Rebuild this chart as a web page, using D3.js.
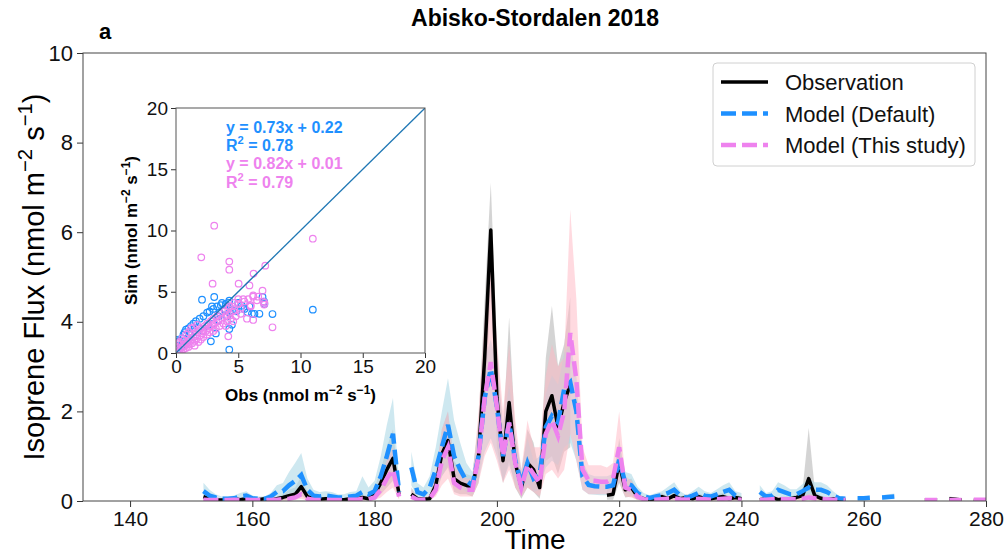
<!DOCTYPE html>
<html>
<head>
<meta charset="utf-8">
<script src="https://cdn.jsdelivr.net/npm/d3@7"></script>
<style>
  body { margin: 0; background: #fff; }
  svg { font-family: "Liberation Sans", Arial, Helvetica, sans-serif; }
</style>
</head>
<body>
<svg id="chart" width="1004" height="556"></svg>
<script>
// day of year, one value per day from 152 to 280
var firstDay = 152
var days = d3.range(firstDay, 281)

var xTicks = [140, 160, 180, 200, 220, 240, 260, 280]
var yTicks = [0, 2, 4, 6, 8, 10]
var insetTicks = [0, 5, 10, 15, 20]

// Observation (mean, upper and lower bound of the spread)
var obsMean = [
  0.10,0.05,0.02,0.02,0.03,0.05,0.03,0.05,0.02,0.03,
  0.05,0.02,0.05,0.08,0.12,0.15,0.32,0.10,0.05,0.04,
  0.05,0.05,0.03,0.03,0.05,0.04,0.08,0.05,0.15,0.40,
  0.70,0.95,0.15,null,0.15,0.05,0.04,0.05,0.35,1.05,
  1.35,0.50,0.40,0.35,0.30,1.00,3.20,6.05,2.30,0.90,
  2.20,0.85,0.30,0.85,0.70,0.30,2.00,2.35,1.65,2.20,
  2.60,null,null,null,null,null,0.13,0.15,0.85,0.25,
  0.30,0.10,0.05,0.03,0.05,0.10,0.05,0.12,0.05,0.08,
  0.05,0.10,0.05,0.05,0.08,0.10,0.05,0.08,0.05,null,
  null,0.03,0.05,0.08,0.03,0.05,0.05,0.08,0.12,0.50,
  0.12,0.06,0.03,0.05,0.03,0.02,null,null,null,null,
  null,null,null,null,null,null,null,null,0.03,0.03,
  0.02,null,0.05,0.04,0.02,null,0.02,0.01,0.01]
var obsHi = [
  0.20,0.10,0.05,0.05,0.06,0.10,0.06,0.10,0.05,0.06,
  0.10,0.05,0.10,0.15,0.25,0.30,0.55,0.20,0.10,0.08,
  0.10,0.10,0.06,0.06,0.10,0.08,0.15,0.10,0.30,0.70,
  1.20,1.60,0.30,null,0.30,0.10,0.08,0.10,0.60,1.60,
  2.00,0.90,0.70,0.60,0.55,1.80,4.50,7.10,3.50,1.50,
  4.10,1.50,0.60,1.60,1.30,0.60,3.20,4.35,3.00,3.50,
  4.55,null,null,null,null,null,0.25,0.30,1.40,0.45,
  0.50,0.20,0.10,0.06,0.10,0.18,0.10,0.22,0.10,0.15,
  0.10,0.18,0.10,0.10,0.15,0.18,0.10,0.15,0.10,null,
  null,0.06,0.10,0.15,0.06,0.10,0.10,0.15,0.25,1.63,
  0.25,0.12,0.06,0.10,0.06,0.04,null,null,null,null,
  null,null,null,null,null,null,null,null,0.06,0.06,
  0.04,null,0.10,0.08,0.04,null,0.04,0.02,0.02]
var obsLo = [
  0.02,0.01,0.00,0.00,0.00,0.01,0.00,0.01,0.00,0.00,
  0.01,0.00,0.01,0.02,0.03,0.04,0.12,0.03,0.01,0.01,
  0.01,0.01,0.00,0.00,0.01,0.00,0.02,0.01,0.04,0.15,
  0.30,0.45,0.05,null,0.05,0.01,0.01,0.01,0.15,0.55,
  0.75,0.20,0.15,0.15,0.10,0.40,1.80,4.80,1.20,0.40,
  0.90,0.30,0.05,0.30,0.20,0.05,0.90,1.00,0.60,1.10,
  1.20,null,null,null,null,null,0.03,0.03,0.40,0.08,
  0.10,0.02,0.01,0.00,0.01,0.02,0.01,0.03,0.01,0.02,
  0.01,0.02,0.01,0.01,0.02,0.02,0.01,0.02,0.01,null,
  null,0.00,0.01,0.02,0.00,0.01,0.01,0.02,0.03,0.10,
  0.03,0.01,0.00,0.01,0.00,0.00,null,null,null,null,
  null,null,null,null,null,null,null,null,0.00,0.00,
  0.00,null,0.01,0.01,0.00,null,0.00,0.00,0.00]

// Model (Default)
var defMean = [
  0.22,0.12,0.08,0.05,0.05,0.06,0.10,0.12,0.06,0.05,
  0.05,0.10,0.20,0.22,0.35,0.45,0.58,0.25,0.12,0.10,
  0.12,0.10,0.08,0.08,0.10,0.12,0.20,0.15,0.22,0.55,
  1.00,1.50,0.20,null,0.75,0.20,0.15,0.30,0.70,1.20,
  1.70,1.00,0.70,0.45,0.35,1.00,2.30,2.95,2.10,1.00,
  1.75,0.90,0.40,0.85,0.50,0.60,1.65,1.90,1.75,2.50,
  2.65,2.00,0.55,0.36,0.33,0.32,0.32,0.35,0.92,0.40,
  0.35,0.18,0.10,0.07,0.10,0.13,0.18,0.25,0.12,0.07,
  0.12,0.18,0.12,0.10,0.15,0.20,0.25,0.12,0.10,null,
  null,0.20,0.10,0.12,0.25,0.20,0.15,0.15,0.22,0.30,
  0.25,0.25,0.20,0.12,0.06,0.05,null,0.06,0.06,0.07,
  null,0.08,0.09,0.10,null,null,null,null,null,null,
  null,null,null,null,null,null,null,null,null]
var defHi = [
  0.41,0.25,0.15,0.10,0.10,0.12,0.18,0.22,0.12,0.10,
  0.10,0.18,0.35,0.40,0.65,0.85,1.07,0.50,0.25,0.20,
  0.22,0.20,0.15,0.15,0.20,0.22,0.55,0.30,0.45,1.00,
  1.70,2.30,0.40,null,1.10,0.40,0.30,0.55,1.20,2.00,
  2.74,1.80,1.30,0.85,0.65,1.70,3.20,3.60,3.00,1.70,
  2.60,1.50,0.70,1.40,0.90,1.00,2.40,2.80,2.60,3.30,
  3.50,2.80,0.90,0.60,0.55,0.55,0.55,0.60,1.30,0.65,
  0.60,0.32,0.18,0.13,0.18,0.22,0.32,0.42,0.22,0.13,
  0.22,0.32,0.22,0.18,0.26,0.35,0.42,0.22,0.18,null,
  null,0.35,0.18,0.22,0.42,0.35,0.26,0.26,0.38,0.50,
  0.42,0.42,0.35,0.22,0.11,0.09,null,0.10,0.10,0.12,
  null,0.13,0.15,0.17,null,null,null,null,null,null,
  null,null,null,null,null,null,null,null,null]
var defLo = [
  0.10,0.05,0.03,0.02,0.02,0.03,0.04,0.05,0.03,0.02,
  0.02,0.04,0.08,0.10,0.15,0.20,0.25,0.10,0.05,0.04,
  0.05,0.04,0.03,0.03,0.04,0.05,0.08,0.06,0.10,0.25,
  0.45,0.70,0.08,null,0.35,0.08,0.06,0.12,0.30,0.55,
  0.80,0.45,0.30,0.20,0.15,0.45,1.10,1.40,1.00,0.45,
  0.80,0.40,0.15,0.40,0.20,0.25,0.75,0.90,0.80,1.20,
  1.30,0.90,0.25,0.15,0.14,0.13,0.13,0.15,0.45,0.18,
  0.15,0.07,0.04,0.03,0.04,0.05,0.07,0.10,0.05,0.03,
  0.05,0.07,0.05,0.04,0.06,0.08,0.10,0.05,0.04,null,
  null,0.08,0.04,0.05,0.10,0.08,0.06,0.06,0.09,0.12,
  0.10,0.10,0.08,0.05,0.02,0.02,null,0.02,0.02,0.03,
  null,0.03,0.04,0.04,null,null,null,null,null,null,
  null,null,null,null,null,null,null,null,null]

// Model (This study)
var newMean = [
  0.03,0.02,0.02,0.02,0.02,0.03,0.02,0.03,0.02,0.02,
  0.02,0.02,0.03,0.04,0.05,0.08,0.15,0.05,0.03,0.02,
  0.03,0.02,0.02,0.02,0.03,0.03,0.05,0.04,0.08,0.25,
  0.50,0.70,0.10,null,0.10,0.03,0.03,0.05,0.25,0.90,
  1.20,0.40,0.30,0.25,0.25,1.00,2.30,3.10,2.10,1.00,
  1.75,0.85,0.30,0.80,0.60,0.40,1.50,1.80,1.45,2.00,
  3.75,2.70,0.70,0.46,0.45,0.43,0.43,0.50,1.20,0.30,
  0.25,0.10,0.04,0.03,0.03,0.04,0.05,0.06,0.04,0.03,
  0.04,0.05,0.04,0.03,0.04,0.05,0.06,0.04,0.03,null,
  null,0.03,0.03,0.04,0.05,0.04,0.04,0.04,0.05,0.08,
  0.06,0.05,0.04,0.03,0.03,0.02,null,null,null,null,
  null,null,null,null,null,null,null,null,0.02,0.02,
  0.02,null,0.02,0.02,0.02,null,0.03,0.03,0.03]
var newHi = [
  0.08,0.05,0.05,0.05,0.05,0.06,0.05,0.06,0.05,0.05,
  0.05,0.05,0.06,0.08,0.10,0.15,0.30,0.10,0.06,0.05,
  0.06,0.05,0.05,0.05,0.06,0.06,0.10,0.08,0.20,0.50,
  0.90,1.20,0.25,null,0.25,0.08,0.08,0.12,0.60,1.60,
  2.00,0.80,0.60,0.50,0.50,2.00,4.00,5.30,3.60,2.00,
  3.50,1.80,0.70,1.80,1.20,1.20,2.80,3.50,3.00,3.20,
  6.50,4.50,1.20,0.80,0.80,0.80,0.75,0.85,2.00,0.55,
  0.45,0.20,0.08,0.06,0.06,0.08,0.10,0.12,0.08,0.06,
  0.08,0.10,0.08,0.06,0.08,0.10,0.12,0.08,0.06,null,
  null,0.06,0.06,0.08,0.10,0.08,0.08,0.08,0.10,0.16,
  0.12,0.10,0.08,0.06,0.06,0.04,null,null,null,null,
  null,null,null,null,null,null,null,null,0.04,0.04,
  0.04,null,0.04,0.04,0.04,null,0.06,0.06,0.06]
var newLo = [
  0.00,0.00,0.00,0.00,0.00,0.00,0.00,0.00,0.00,0.00,
  0.00,0.00,0.00,0.01,0.01,0.02,0.05,0.01,0.00,0.00,
  0.00,0.00,0.00,0.00,0.00,0.00,0.01,0.01,0.02,0.08,
  0.20,0.30,0.03,null,0.03,0.01,0.01,0.02,0.10,0.35,
  0.50,0.15,0.10,0.10,0.10,0.40,1.00,1.30,0.90,0.40,
  0.70,0.30,0.10,0.30,0.20,0.10,0.60,0.70,0.50,0.70,
  1.50,0.90,0.25,0.15,0.15,0.15,0.15,0.15,0.45,0.10,
  0.08,0.02,0.01,0.00,0.00,0.01,0.01,0.01,0.01,0.00,
  0.01,0.01,0.01,0.00,0.01,0.01,0.01,0.01,0.00,null,
  null,0.00,0.00,0.01,0.01,0.01,0.01,0.01,0.01,0.02,
  0.01,0.01,0.01,0.00,0.00,0.00,null,null,null,null,
  null,null,null,null,null,null,null,null,0.00,0.00,
  0.00,null,0.00,0.00,0.00,null,0.01,0.01,0.01]

// inset scatter: [obs, sim]
var scatterDefault = [
  [2.09,4.35],[3.07,4.57],[4.28,4.27],[4.20,4.10],[4.28,0.27],[4.28,1.96],[4.49,2.31],
  [4.84,3.40],[5.29,3.86],[5.75,3.32],[5.90,3.80],[6.10,3.20],[6.30,3.20],[6.70,3.20],
  [6.95,4.57],[7.08,4.19],[7.10,4.00],[7.75,3.18],[10.99,3.54],[2.89,3.81],[3.69,4.08],
  [3.37,3.00],[2.80,0.95],[3.90,3.60],[4.50,3.50],[5.00,4.10],[3.50,3.30],
  [0.10,0.90],[0.20,1.10],[0.30,1.00],[0.50,1.20],[0.60,1.50],[0.80,1.90],[1.00,2.00],
  [1.20,2.20],[1.40,2.40],[1.60,2.60],[1.90,2.80],[2.20,3.00],[2.50,3.30],[2.70,3.40],
  [3.00,3.60],[3.30,3.80],[3.60,3.90],[4.00,4.00],[1.40,1.30],[2.20,1.80],[3.00,2.40],
  [3.40,2.70],[4.10,3.00],[0.10,0.60],[0.15,0.30],[0.40,0.50],[1.00,1.20],[1.80,2.00],
  [2.60,2.30],[4.30,3.30],[5.50,3.60],[3.20,1.60],[0.70,1.70],[1.10,1.50]]
var scatterNew = [
  [3.07,10.39],[2.03,7.81],[4.28,7.46],[4.28,6.80],[7.17,7.13],[6.23,6.48],[5.03,5.66],
  [5.90,5.52],[2.94,5.66],[10.99,9.33],[6.95,5.09],[6.60,4.60],[6.20,4.70],[5.40,4.40],
  [5.00,4.40],[4.70,4.10],[4.30,3.80],[7.75,2.10],[6.20,2.70],[5.70,2.80],[7.08,3.95],
  [4.20,1.36],[4.00,2.20],[4.60,2.60],[5.20,3.20],[6.00,3.90],[7.00,4.20],[7.10,4.10],
  [0.20,0.10],[0.30,0.30],[0.40,0.20],[0.50,0.50],[0.60,0.30],[0.70,0.60],[0.80,0.40],
  [0.90,0.80],[1.00,0.50],[1.00,1.00],[1.10,0.70],[1.20,1.10],[1.30,0.80],[1.40,1.30],
  [1.50,1.00],[1.50,0.60],[1.60,1.50],[1.70,1.20],[1.80,0.90],[1.80,1.70],[1.90,1.40],
  [2.00,1.10],[2.00,2.00],[2.10,1.60],[2.20,1.30],[2.30,2.20],[2.40,1.80],[2.50,1.50],
  [2.50,2.40],[2.60,2.00],[2.70,1.70],[2.80,2.60],[2.90,2.20],[3.00,1.80],[3.00,2.80],
  [3.10,2.40],[3.20,2.00],[3.30,3.00],[3.40,2.60],[3.50,2.20],[3.60,3.20],[3.70,2.80],
  [3.80,2.40],[3.90,3.40],[4.00,3.00],[4.10,2.60],[4.20,3.60],[4.30,3.20],[4.40,2.80],
  [4.50,3.80],[4.60,3.40],[4.80,3.00],[5.00,4.00],[5.20,3.60],[5.50,4.20],[5.80,4.40],
  [6.00,3.80],[6.20,4.60],[6.50,4.30],[0.10,0.50],[0.30,0.90],[0.50,1.20],[0.20,0.80],
  [0.80,1.50],[1.20,2.00],[0.40,0.70],[0.60,1.00],[1.00,1.70],[1.40,2.10],[1.70,2.30]]

var fitLines = [
  {parts: [["y = 0.73x + 0.22", 0]], color: "#1e90ff"},
  {parts: [["R", 0], ["2", 1], [" = 0.78", 0]], color: "#1e90ff"},
  {parts: [["y = 0.82x + 0.01", 0]], color: "#ee82ee"},
  {parts: [["R", 0], ["2", 1], [" = 0.79", 0]], color: "#ee82ee"}
]

var legendItems = [
  {label: "Observation", color: "black", dash: null, width: 3.5},
  {label: "Model (Default)", color: "#1e90ff", dash: "15,6", width: 4.5},
  {label: "Model (This study)", color: "#ee82ee", dash: "15,6", width: 4.5}
]

var svg = d3.select("#chart")
var plot = {left: 83, right: 986, top: 53, bottom: 501}

var xScale = d3.scaleLinear().domain([132.3, 280]).range([plot.left, plot.right])
var yScale = d3.scaleLinear().domain([0, 10]).range([plot.bottom, plot.top])

svg.append("defs").append("clipPath").attr("id", "plotClip")
    .append("rect")
    .attr("x", plot.left).attr("y", plot.top)
    .attr("width", plot.right - plot.left).attr("height", plot.bottom - plot.top)

// text with superscripts
function richText(text, parts, size) {
    var shift = 0
    parts.forEach(function(p) {
        var target = p[1] ? -size * 0.42 : 0
        text.append("tspan")
            .attr("dy", target - shift)
            .attr("font-size", p[1] ? size * 0.7 : size)
            .text(p[0])
        shift = target
    })
    return text
}

function styleAxis(g, size) {
    g.select(".domain").remove()
    g.selectAll(".tick line").attr("stroke", "#333").attr("stroke-width", 1)
    g.selectAll(".tick text").attr("font-size", size).attr("fill", "#111")
        .attr("font-family", "Liberation Sans, Arial, sans-serif")
}

var main = svg.append("g").attr("clip-path", "url(#plotClip)")

function bandArea(lo, hi) {
    return d3.area()
        .defined(function(i) { return hi[i] != null && lo[i] != null })
        .x(function(i) { return xScale(days[i]) })
        .y0(function(i) { return yScale(lo[i]) })
        .y1(function(i) { return yScale(hi[i]) })
}

function seriesLine(values) {
    return d3.line()
        .defined(function(i) { return values[i] != null })
        .x(function(i) { return xScale(days[i]) })
        .y(function(i) { return yScale(values[i]) })
}

var idx = d3.range(days.length)

main.append("path").attr("d", bandArea(obsLo, obsHi)(idx))
    .attr("fill", "#a9a9a9").attr("fill-opacity", 0.5)
main.append("path").attr("d", bandArea(defLo, defHi)(idx))
    .attr("fill", "#add8e6").attr("fill-opacity", 0.6)
main.append("path").attr("d", bandArea(newLo, newHi)(idx))
    .attr("fill", "#ffb6c1").attr("fill-opacity", 0.5)

main.append("path").attr("d", seriesLine(obsMean)(idx))
    .attr("fill", "none").attr("stroke", "black").attr("stroke-width", 3.5)
    .attr("stroke-linejoin", "round")
main.append("path").attr("d", seriesLine(defMean)(idx))
    .attr("fill", "none").attr("stroke", "#1e90ff").attr("stroke-width", 4.5)
    .attr("stroke-dasharray", "15,6")
main.append("path").attr("d", seriesLine(newMean)(idx))
    .attr("fill", "none").attr("stroke", "#ee82ee").attr("stroke-width", 4.5)
    .attr("stroke-dasharray", "15,6")

// axes
var gx = svg.append("g").attr("transform", "translate(0," + plot.bottom + ")")
    .call(d3.axisBottom(xScale).tickValues(xTicks).tickSize(6).tickPadding(4).tickFormat(d3.format("d")))
styleAxis(gx, 21)
var gy = svg.append("g").attr("transform", "translate(" + plot.left + ",0)")
    .call(d3.axisLeft(yScale).tickValues(yTicks).tickSize(6).tickPadding(4).tickFormat(d3.format("d")))
styleAxis(gy, 22)

svg.append("rect")
    .attr("x", plot.left).attr("y", plot.top)
    .attr("width", plot.right - plot.left).attr("height", plot.bottom - plot.top)
    .attr("fill", "none").attr("stroke", "#444").attr("stroke-width", 1)

svg.append("text").attr("x", 535).attr("y", 549).attr("text-anchor", "middle")
    .attr("font-size", 28).text("Time")

richText(svg.append("text")
    .attr("transform", "translate(44," + ((plot.top + plot.bottom) / 2) + ") rotate(-90)")
    .attr("text-anchor", "middle"),
    [["Isoprene Flux (nmol m", 0], ["\u22122", 1], [" s", 0], ["\u22121", 1], [")", 0]], 29)

svg.append("text").attr("x", 535).attr("y", 26).attr("text-anchor", "middle")
    .attr("font-size", 23).attr("font-weight", "bold").text("Abisko-Stordalen 2018")
svg.append("text").attr("x", 99).attr("y", 39)
    .attr("font-size", 22).attr("font-weight", "bold").text("a")

// legend
var legend = svg.append("g")
legend.append("rect").attr("x", 713).attr("y", 63).attr("width", 262).attr("height", 103)
    .attr("rx", 4).attr("fill", "white").attr("fill-opacity", 0.85)
    .attr("stroke", "#d0d0d0").attr("stroke-width", 1)
legendItems.forEach(function(item, i) {
    var ly = 82 + i * 31.5
    legend.append("line").attr("x1", 721).attr("x2", 768).attr("y1", ly).attr("y2", ly)
        .attr("stroke", item.color).attr("stroke-width", item.width)
        .attr("stroke-dasharray", item.dash)
    legend.append("text").attr("x", 785).attr("y", ly + 8)
        .attr("font-size", 22).attr("fill", "#111").text(item.label)
})

// inset scatter
var inset = {left: 176, right: 425, top: 108, bottom: 353}
var xIn = d3.scaleLinear().domain([0, 20]).range([inset.left, inset.right])
var yIn = d3.scaleLinear().domain([0, 20]).range([inset.bottom, inset.top])

svg.append("defs").append("clipPath").attr("id", "insetClip")
    .append("rect")
    .attr("x", inset.left).attr("y", inset.top)
    .attr("width", inset.right - inset.left).attr("height", inset.bottom - inset.top)

svg.append("rect")
    .attr("x", inset.left).attr("y", inset.top)
    .attr("width", inset.right - inset.left).attr("height", inset.bottom - inset.top)
    .attr("fill", "white")

var insetBody = svg.append("g").attr("clip-path", "url(#insetClip)")

insetBody.selectAll("circle.def")
    .data(scatterDefault).enter()
    .append("circle").classed("def", true)
    .attr("cx", function(d) { return xIn(d[0]) })
    .attr("cy", function(d) { return yIn(d[1]) })
    .attr("r", 3.3)
    .attr("fill", "none").attr("stroke", "#1e90ff").attr("stroke-width", 1.2)

insetBody.selectAll("circle.new")
    .data(scatterNew).enter()
    .append("circle").classed("new", true)
    .attr("cx", function(d) { return xIn(d[0]) })
    .attr("cy", function(d) { return yIn(d[1]) })
    .attr("r", 3.3)
    .attr("fill", "none").attr("stroke", "#ee82ee").attr("stroke-width", 1.2)

insetBody.append("line")
    .attr("x1", xIn(0)).attr("y1", yIn(0)).attr("x2", xIn(20)).attr("y2", yIn(20))
    .attr("stroke", "#1f77b4").attr("stroke-width", 1.3)

fitLines.forEach(function(f, i) {
    richText(svg.append("text").attr("x", 226).attr("y", 133 + i * 18.2)
        .attr("fill", f.color).attr("font-weight", "bold"), f.parts, 16)
})

var gxIn = svg.append("g").attr("transform", "translate(0," + inset.bottom + ")")
    .call(d3.axisBottom(xIn).tickValues(insetTicks).tickSize(5).tickPadding(2))
styleAxis(gxIn, 19)
var gyIn = svg.append("g").attr("transform", "translate(" + inset.left + ",0)")
    .call(d3.axisLeft(yIn).tickValues(insetTicks).tickSize(5).tickPadding(3))
styleAxis(gyIn, 19)

svg.append("rect")
    .attr("x", inset.left).attr("y", inset.top)
    .attr("width", inset.right - inset.left).attr("height", inset.bottom - inset.top)
    .attr("fill", "none").attr("stroke", "#555").attr("stroke-width", 1)

richText(svg.append("text").attr("x", (inset.left + inset.right) / 2).attr("y", 401)
    .attr("text-anchor", "middle").attr("font-weight", "bold"),
    [["Obs (nmol m", 0], ["\u22122", 1], [" s", 0], ["\u22121", 1], [")", 0]], 17)

richText(svg.append("text")
    .attr("transform", "translate(137," + ((inset.top + inset.bottom) / 2) + ") rotate(-90)")
    .attr("text-anchor", "middle").attr("font-weight", "bold"),
    [["Sim (nmol m", 0], ["\u22122", 1], [" s", 0], ["\u22121", 1], [")", 0]], 17)
</script>
</body>
</html>
